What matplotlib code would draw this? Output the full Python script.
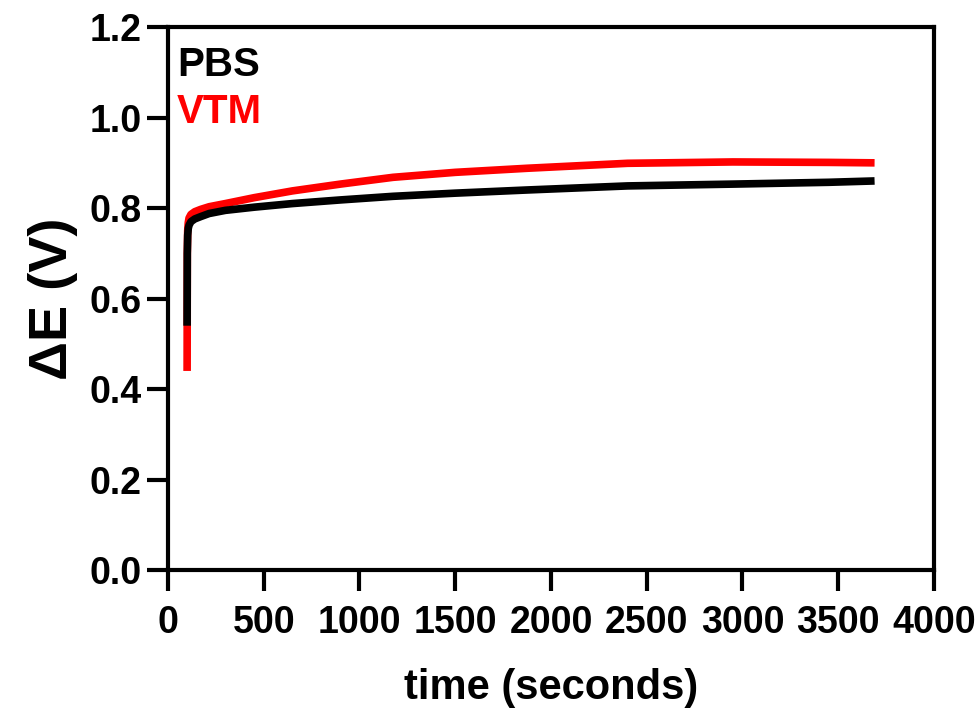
import matplotlib
matplotlib.use("Agg")
import matplotlib.pyplot as plt

plt.rcParams["font.family"] = ["Liberation Sans", "DejaVu Sans"]
plt.rcParams["font.weight"] = "bold"

# time (s) and potential difference (V)
t_pbs = [100, 101, 103, 106, 110, 120, 140, 170, 215, 300, 450, 650, 900,
         1175, 1500, 1875, 2400, 2950, 3450, 3690]
e_pbs = [0.54, 0.70, 0.74, 0.755, 0.762, 0.770, 0.776, 0.781, 0.788, 0.795,
         0.802, 0.810, 0.818, 0.826, 0.833, 0.840, 0.849, 0.853, 0.857, 0.860]

t_vtm = [100, 101, 103, 106, 110, 120, 140, 170, 215, 300, 450, 650, 900,
         1175, 1500, 1875, 2400, 2950, 3450, 3690]
e_vtm = [0.44, 0.70, 0.75, 0.768, 0.778, 0.786, 0.792, 0.797, 0.803, 0.810,
         0.823, 0.838, 0.853, 0.868, 0.879, 0.888, 0.899, 0.902, 0.901, 0.900]

x_ticks = [0, 500, 1000, 1500, 2000, 2500, 3000, 3500, 4000]
y_ticks = [0.0, 0.2, 0.4, 0.6, 0.8, 1.0, 1.2]

fig = plt.figure(figsize=(9.8, 7.14), dpi=100)
ax = fig.add_axes([0.1714, 0.2017, 0.7816, 0.7603])

ax.plot(t_vtm, e_vtm, color="#ff0000", lw=5.5, solid_capstyle="butt")
ax.plot(t_pbs, e_pbs, color="#000000", lw=5.5, solid_capstyle="butt")

ax.set_xlim(0, 4000)
ax.set_ylim(0, 1.2)
ax.set_xticks(x_ticks)
ax.set_yticks(y_ticks)
ax.set_yticklabels([f"{v:.1f}" for v in y_ticks])

for sp in ax.spines.values():
    sp.set_linewidth(3.0)
ax.tick_params(direction="out", length=15, width=3.0, labelsize=27)
ax.tick_params(axis="x", pad=10)
ax.tick_params(axis="y", pad=4)
for lab in ax.get_xticklabels() + ax.get_yticklabels():
    lab.set_fontweight("bold")

ax.set_xlabel("time (seconds)", fontsize=30, fontweight="bold", labelpad=20)
ax.set_ylabel("ΔE (V)", fontsize=39, fontweight="bold", labelpad=8)

ax.text(0.012, 0.93, "PBS", transform=ax.transAxes, fontsize=29,
        fontweight="bold", color="black", va="center")
ax.text(0.012, 0.843, "VTM", transform=ax.transAxes, fontsize=29,
        fontweight="bold", color="#ff0000", va="center")

fig.savefig("out.png", dpi=100)
